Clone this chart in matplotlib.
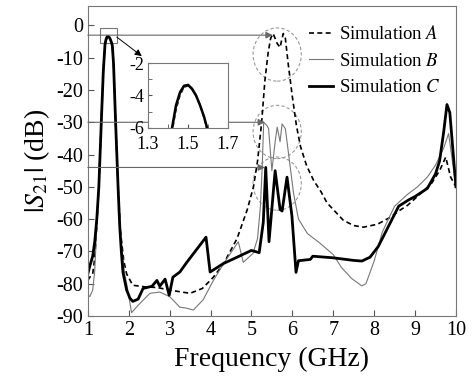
import numpy as np
import matplotlib
matplotlib.use("Agg")
import matplotlib.pyplot as plt
from matplotlib.patches import Ellipse, Rectangle

plt.rcParams['font.family'] = ['Liberation Serif', 'DejaVu Serif']
plt.rcParams['mathtext.fontset'] = 'stix'
plt.rcParams['axes.unicode_minus'] = False

# Simulation A (dashed)
freq_a = [1.0, 1.05, 1.12, 1.17, 1.22, 1.27, 1.33, 1.38, 1.42, 1.44, 1.46, 1.48, 1.50, 1.52,
          1.54, 1.56, 1.58, 1.60, 1.63, 1.68, 1.74, 1.80, 1.88, 1.95, 2.1, 2.4, 2.7, 3.0, 3.5,
          3.8, 4.07, 4.32, 4.65, 4.9, 5.05, 5.15, 5.25, 5.33, 5.41, 5.47, 5.53, 5.58, 5.63,
          5.7, 5.74, 5.78, 5.83, 5.9, 6.0, 6.1, 6.2, 6.35, 6.52, 6.7, 6.85, 7.25, 7.5, 7.74,
          8.08, 8.4, 8.6, 8.82, 9.1, 9.4, 9.6, 9.75, 9.87, 10.0]
s21_a = [-79, -78, -77, -72, -62, -50, -30, -14, -6.3, -4.9, -4.0, -3.5, -3.4, -3.6,
         -4.0, -4.6, -5.4, -6.4, -12, -30, -50, -64, -73, -77, -80.5, -81, -81.2, -82, -83,
         -81.5, -78, -73.8, -66, -57, -50, -42, -30, -17, -8.3, -4, -2.5, -4, -5.6,
         -6.8, -4.5, -2.5, -4, -12, -22, -31, -37.5, -43.5, -48, -51.5, -55, -60.4, -62, -62.5,
         -61.6, -59.4, -57.5, -55.7, -52.5, -49, -45, -40.8, -47, -50]

# Simulation B (thin grey)
freq_b = [1.0, 1.05, 1.12, 1.17, 1.22, 1.27, 1.33, 1.38, 1.42, 1.44, 1.46, 1.48, 1.50, 1.52,
          1.54, 1.56, 1.58, 1.60, 1.63, 1.68, 1.74, 1.80, 1.90, 1.95, 2.07, 2.23, 2.52, 2.76,
          3.0, 3.25, 3.42, 3.58, 3.82, 4.07, 4.32, 4.68, 4.8, 5.04, 5.15, 5.22, 5.26, 5.3,
          5.38, 5.42, 5.5, 5.58, 5.63, 5.7, 5.75, 5.83, 5.95, 6.03, 6.15, 6.37, 6.68, 7.0,
          7.2, 7.45, 7.7, 7.8, 8.0, 8.2, 8.33, 8.5, 8.8, 9.06, 9.3, 9.5, 9.7, 9.82, 10.0]
s21_b = [-83.5, -84, -82, -76, -62, -50, -30, -14, -6.2, -4.8, -3.9, -3.5, -3.3, -3.5,
         -3.9, -4.5, -5.3, -6.3, -12, -30, -50, -66, -77, -80, -89, -86.7, -83, -82.6,
         -84, -87.3, -87.6, -88.2, -85, -79, -73.8, -67, -73.4, -70.6, -66, -56, -45, -30,
         -31, -32, -45, -36, -31.5, -36, -30.5, -32, -44, -52, -60, -64.5, -67.5, -71,
         -75, -78.4, -80.7, -80, -73, -64, -60.5, -56, -52.5, -50, -47, -43.3, -38, -33.5, -50]

# Simulation C (thick black)
freq_c = [1.0, 1.05, 1.12, 1.17, 1.22, 1.27, 1.33, 1.38, 1.42, 1.44, 1.46, 1.48, 1.50, 1.52,
          1.54, 1.56, 1.58, 1.60, 1.63, 1.68, 1.74, 1.78, 1.82, 1.86, 1.95, 2.03, 2.1, 2.23,
          2.35, 2.57, 2.69, 2.76, 2.89, 2.99, 3.08, 3.25, 3.42, 3.89, 3.99, 4.31, 4.65, 5.0,
          5.19, 5.29, 5.35, 5.43, 5.58, 5.7, 5.75, 5.87, 5.99, 6.09, 6.15, 6.44, 6.5, 7.0,
          7.5, 7.7, 7.9, 8.1, 8.4, 8.6, 8.85, 9.0, 9.3, 9.5, 9.6, 9.7, 9.78, 9.85, 10.0]
s21_c = [-77, -74.5, -71.5, -67, -60, -50, -30, -14, -6, -4.6, -3.8, -3.4, -3.35, -3.6,
         -4.0, -4.6, -5.3, -6.2, -12, -30, -50, -62, -70, -76.5, -82, -84.5, -85.5, -84.8,
         -81.5, -80.8, -79, -80.8, -78.6, -83.6, -78, -76.4, -73.4, -65.6, -76.4, -73.8, -71.8, -69.7,
         -70.4, -61, -44, -67, -45, -57, -57.5, -47, -59, -76.5, -72.9, -72.5, -71.5, -72,
         -72.8, -73, -71.8, -68.5, -61, -56, -54, -53, -50.5, -46, -42, -33, -24.5, -27, -50]

x_ticks = np.arange(1, 11)
y_ticks = np.arange(-90, 1, 10)

fig = plt.figure(figsize=(4.72, 3.82), dpi=100)
ax = fig.add_axes([0.186, 0.173, 0.780, 0.811])

ax.plot(freq_a, s21_a, color='black', lw=1.2, ls=(0, (3, 2)), label='Simulation $A$')
ax.plot(freq_b, s21_b, color='#777777', lw=0.8, label='Simulation $B$')
ax.plot(freq_c, s21_c, color='black', lw=2.0, label='Simulation $C$')

# marker lines with arrows
for y, xe in [(-3, 5.52), (-30, 5.33), (-44, 5.33)]:
    ax.annotate('', xy=(xe, y), xytext=(1.0, y),
                arrowprops=dict(arrowstyle='-|>', color='#666666', lw=0.8,
                                mutation_scale=10, shrinkA=0, shrinkB=0))

for yc in [-9, -33, -49]:
    ax.add_patch(Ellipse((5.63, yc), 1.18, 16.5, fill=False, ec='#999999', ls=(0, (3, 2)), lw=0.8))

ax.add_patch(Rectangle((1.29, -5.3), 0.42, 4.4, fill=False, ec='#777777', lw=0.8))
ax.annotate('', xy=(2.32, -9.5), xytext=(1.71, -3.6),
            arrowprops=dict(arrowstyle='-|>', color='black', lw=0.7,
                            mutation_scale=10, shrinkA=0, shrinkB=0))

ax.set_xlim(1, 10)
ax.set_ylim(-90, 6)
ax.set_xticks(x_ticks)
ax.set_yticks(y_ticks)
ax.tick_params(direction='in', labelsize=14.5, length=4, color='#555555')
for s in ax.spines.values():
    s.set_color('#777777')
    s.set_linewidth(0.8)
ax.set_xlabel('Frequency (GHz)', fontsize=20, labelpad=5)
ax.set_ylabel(r'$|S_{21}|$ (dB)', fontsize=20, labelpad=3)

ax.legend(loc='upper left', bbox_to_anchor=(0.59, 0.95), frameon=False, fontsize=13.5,
          handlelength=1.3, handletextpad=0.3, labelspacing=0.5, borderpad=0.2,
          borderaxespad=0)

# inset
axi = fig.add_axes([0.3136, 0.665, 0.1695, 0.170])
axi.plot(freq_a, s21_a, color='black', lw=1.0, ls=(0, (3, 2)))
axi.plot(freq_b, s21_b, color='#777777', lw=0.8)
axi.plot(freq_c, s21_c, color='black', lw=1.8)
axi.set_xlim(1.3, 1.7)
axi.set_ylim(-6, -2)
axi.set_xticks([1.3, 1.5, 1.7])
axi.set_xticks([1.4, 1.6], minor=True)
axi.set_yticks([-6, -4, -2])
axi.set_yticks([-5, -3], minor=True)
axi.tick_params(which='both', direction='in', labelsize=13, length=3, color='#555555')
axi.tick_params(axis='y', pad=3)
axi.tick_params(axis='x', pad=6)
for s in axi.spines.values():
    s.set_color('#777777')
    s.set_linewidth(0.8)

fig.savefig('out.png', dpi=100)
